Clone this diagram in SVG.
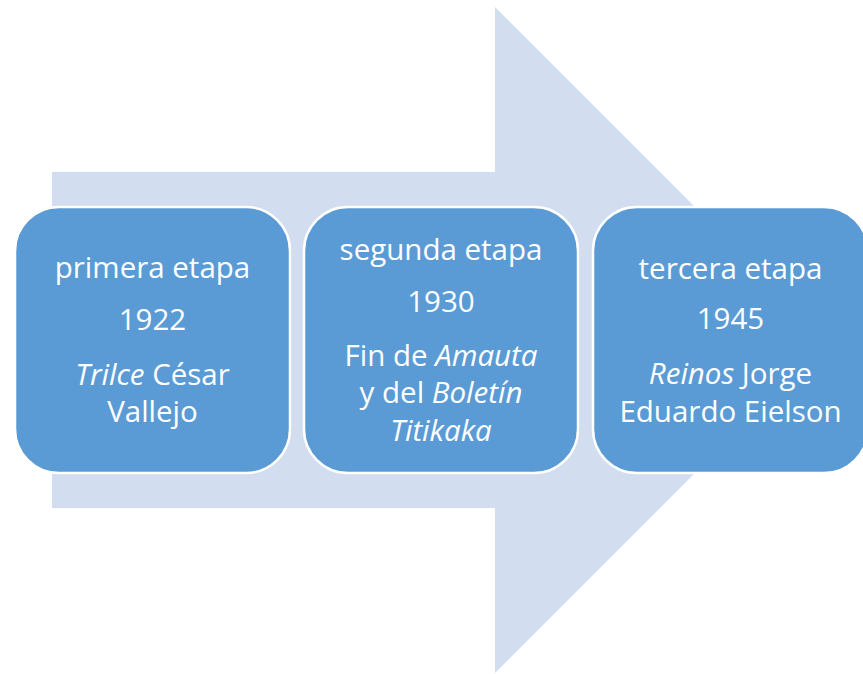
<svg xmlns="http://www.w3.org/2000/svg" width="863" height="674" viewBox="0 0 863 674">
<style>
.box{fill:#5B9BD5;stroke:#FFFFFF;stroke-width:2.5}
.t{font-family:"Open Sans","Noto Sans","Liberation Sans",sans-serif;font-size:29.5px;fill:#FFFFFF;text-anchor:middle}
.i{font-style:italic}
</style>
<rect width="863" height="674" fill="#FFFFFF"/>
<g id="arrow">
<polygon points="52,172 495,172 495,7 828,340 495,673 495,508 52,508" fill="#D2DEEF"/>
</g>
<g id="connectors"></g>
<g id="stage1">
<rect class="box" x="15" y="207" width="275" height="266" rx="44" ry="44"/>
<text class="t" x="152.5" y="278">primera etapa</text>
<text class="t" x="152.5" y="330">1922</text>
<text class="t" x="152.5" y="385"><tspan class="i">Trilce</tspan> César</text>
<text class="t" x="152.5" y="422">Vallejo</text>
</g>
<g id="stage2">
<rect class="box" x="304" y="207" width="274" height="266" rx="44" ry="44"/>
<text class="t" x="441" y="260">segunda etapa</text>
<text class="t" x="441" y="312">1930</text>
<text class="t" x="441" y="366">Fin de <tspan class="i">Amauta</tspan></text>
<text class="t" x="441" y="403">y del <tspan class="i">Boletín</tspan></text>
<text class="t i" x="441" y="441">Titikaka</text>
</g>
<g id="stage3">
<rect class="box" x="593" y="207" width="275" height="266" rx="44" ry="44"/>
<text class="t" x="730.5" y="279">tercera etapa</text>
<text class="t" x="730.5" y="329">1945</text>
<text class="t" x="730.5" y="384"><tspan class="i">Reinos</tspan> Jorge</text>
<text class="t" x="730.5" y="422">Eduardo Eielson</text>
</g>
</svg>
